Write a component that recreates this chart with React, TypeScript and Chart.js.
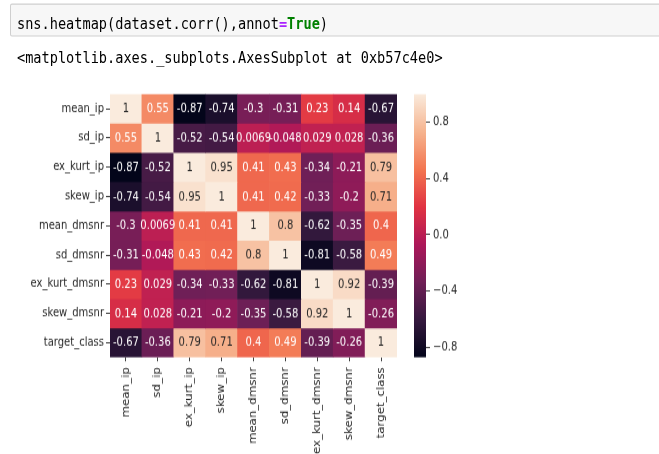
import React, { useEffect, useRef } from "react";
import { Chart, registerables } from "chart.js";

Chart.register(...registerables);

const ROW_LABELS = [
  "mean_ip",
  "sd_ip",
  "ex_kurt_ip",
  "skew_ip",
  "mean_dmsnr",
  "sd_dmsnr",
  "ex_kurt_dmsnr",
  "skew_dmsnr",
  "target_class",
];
const COL_LABELS = [...ROW_LABELS];

const ROW_MEAN_IP = [1, 0.55, -0.87, -0.74, -0.3, -0.31, 0.23, 0.14, -0.67];
const ROW_SD_IP = [0.55, 1, -0.52, -0.54, 0.0069, -0.048, 0.029, 0.028, -0.36];
const ROW_EX_KURT_IP = [-0.87, -0.52, 1, 0.95, 0.41, 0.43, -0.34, -0.21, 0.79];
const ROW_SKEW_IP = [-0.74, -0.54, 0.95, 1, 0.41, 0.42, -0.33, -0.2, 0.71];
const ROW_MEAN_DMSNR = [-0.3, 0.0069, 0.41, 0.41, 1, 0.8, -0.62, -0.35, 0.4];
const ROW_SD_DMSNR = [-0.31, -0.048, 0.43, 0.42, 0.8, 1, -0.81, -0.58, 0.49];
const ROW_EX_KURT_DMSNR = [0.23, 0.029, -0.34, -0.33, -0.62, -0.81, 1, 0.92, -0.39];
const ROW_SKEW_DMSNR = [0.14, 0.028, -0.21, -0.2, -0.35, -0.58, 0.92, 1, -0.26];
const ROW_TARGET_CLASS = [-0.67, -0.36, 0.79, 0.71, 0.4, 0.49, -0.39, -0.26, 1];

const CORR = [
  ROW_MEAN_IP,
  ROW_SD_IP,
  ROW_EX_KURT_IP,
  ROW_SKEW_IP,
  ROW_MEAN_DMSNR,
  ROW_SD_DMSNR,
  ROW_EX_KURT_DMSNR,
  ROW_SKEW_DMSNR,
  ROW_TARGET_CLASS,
];

const CELL_UNIT = 1; // each cell is one unit tall in the stacked row scale
const CB_TICKS = [-0.8, -0.4, 0, 0.4, 0.8];

const VMIN = Math.min(...CORR.flat());
const VMAX = Math.max(...CORR.flat());

// the screenshot is stretched vertically
const S = 1.18;
const PAGE_W = 659;
const PAGE_H = 454;
const IH = PAGE_H / S; // internal height

// rocket colormap anchors
const ROCKET: [number, [number, number, number]][] = [
  [0.0, [3, 5, 26]],
  [0.143, [53, 25, 62]],
  [0.286, [112, 31, 87]],
  [0.429, [173, 23, 89]],
  [0.571, [225, 51, 66]],
  [0.714, [243, 118, 81]],
  [0.857, [246, 180, 143]],
  [1.0, [250, 235, 221]],
];

function rocket(t: number): [number, number, number] {
  const x = Math.max(0, Math.min(1, t));
  for (let i = 0; i < ROCKET.length - 1; i++) {
    const [a, ca] = ROCKET[i];
    const [b, cb] = ROCKET[i + 1];
    if (x <= b) {
      const f = (x - a) / (b - a);
      return [0, 1, 2].map((k) => Math.round(ca[k] + (cb[k] - ca[k]) * f)) as [number, number, number];
    }
  }
  return ROCKET[ROCKET.length - 1][1];
}

function colorOf(v: number) {
  const c = rocket((v - VMIN) / (VMAX - VMIN));
  return `rgb(${c[0]},${c[1]},${c[2]})`;
}

function luminance(v: number) {
  const c = rocket((v - VMIN) / (VMAX - VMIN)).map((u) => {
    const s = u / 255;
    return s <= 0.03928 ? s / 12.92 : Math.pow((s + 0.055) / 1.055, 2.4);
  });
  return 0.2126 * c[0] + 0.7152 * c[1] + 0.0722 * c[2];
}

function fmt2g(v: number) {
  let s = v.toPrecision(2);
  if (s.includes("e")) return s;
  if (s.includes(".")) s = s.replace(/0+$/, "").replace(/\.$/, "");
  return s;
}

const TEXT_DARK = "#262626";
const FONT = "DejaVu Sans";

// layout (page px -> internal px)
const CANVAS_TOP = 68; // internal
const CANVAS_H = IH - CANVAS_TOP;
const AREA_TOP = 94 / S - CANVAS_TOP;
const AREA_BOTTOM = 357 / S - CANVAS_TOP;
const XAXIS_H = CANVAS_H - AREA_BOTTOM;

const annotPlugin = {
  id: "annot",
  afterDatasetsDraw(chart: any) {
    const ctx = chart.ctx;
    ctx.save();
    ctx.font = `10px "${FONT}"`;
    ctx.textAlign = "center";
    ctx.textBaseline = "middle";
    chart.data.datasets.forEach((_: any, r: number) => {
      const meta = chart.getDatasetMeta(r);
      meta.data.forEach((bar: any, c: number) => {
        const p = bar.getProps(["x", "y", "base"], true);
        const v = CORR[r][c];
        ctx.fillStyle = luminance(v) > 0.408 ? TEXT_DARK : "#ffffff";
        ctx.fillText(fmt2g(v), p.x, (p.y + p.base) / 2 + 0.5);
      });
    });
    ctx.restore();
  },
};

function Heatmap() {
  const ref = useRef<HTMLCanvasElement>(null);
  useEffect(() => {
    if (!ref.current) return;
    const chart = new Chart(ref.current, {
      type: "bar",
      data: {
        labels: COL_LABELS,
        datasets: CORR.map((row, r) => ({
          label: ROW_LABELS[r],
          data: row.map(() => CELL_UNIT),
          backgroundColor: row.map((v) => colorOf(v)),
          borderWidth: 0,
          barPercentage: 1,
          categoryPercentage: 1,
        })),
      },
      options: {
        responsive: false,
        animation: false,
        events: [],
        layout: { padding: { top: AREA_TOP, right: 3, left: 0, bottom: 0 } },
        plugins: { legend: { display: false }, tooltip: { enabled: false } },
        scales: {
          x: {
            stacked: true,
            border: { display: false },
            grid: {
              offset: false,
              drawOnChartArea: false,
              drawTicks: true,
              tickLength: 3.4,
              tickColor: "#444",
            },
            ticks: {
              minRotation: 90,
              maxRotation: 90,
              autoSkip: false,
              padding: 5,
              color: TEXT_DARK,
              font: { family: FONT, size: 10 },
            },
            afterFit: (s: any) => {
              s.height = XAXIS_H;
            },
          },
          y: {
            stacked: true,
            min: 0,
            max: ROW_LABELS.length,
            reverse: true,
            border: { display: false },
            grid: {
              drawOnChartArea: false,
              drawTicks: true,
              tickLength: 4,
              tickColor: "#444",
            },
            afterBuildTicks: (s: any) => {
              s.ticks = ROW_LABELS.map((_, i) => ({ value: i + 0.5 }));
            },
            ticks: {
              autoSkip: false,
              padding: 2,
              color: TEXT_DARK,
              font: { family: FONT, size: 10 },
              callback: (v: any) => ROW_LABELS[Math.floor(Number(v))],
            },
            afterFit: (s: any) => {
              s.width = 110;
            },
          },
        },
      },
      plugins: [annotPlugin],
    });
    return () => chart.destroy();
  }, []);
  return (
    <canvas
      ref={ref}
      width={400}
      height={Math.round(CANVAS_H)}
      style={{ position: "absolute", left: 0, top: CANVAS_TOP, width: 400, height: Math.round(CANVAS_H) }}
    />
  );
}

function Colorbar() {
  const ref = useRef<HTMLCanvasElement>(null);
  useEffect(() => {
    if (!ref.current) return;
    const chart = new Chart(ref.current, {
      type: "bar",
      data: {
        labels: [""],
        datasets: [
          {
            data: [[VMIN, VMAX]] as any,
            backgroundColor: (ctx: any) => {
              const area = ctx.chart.chartArea;
              if (!area) return colorOf(0);
              const g = ctx.chart.ctx.createLinearGradient(0, area.bottom, 0, area.top);
              ROCKET.forEach(([t, c]) => g.addColorStop(t, `rgb(${c[0]},${c[1]},${c[2]})`));
              return g;
            },
            borderWidth: 0,
            barPercentage: 1,
            categoryPercentage: 1,
          },
        ],
      },
      options: {
        responsive: false,
        animation: false,
        events: [],
        layout: { padding: { top: AREA_TOP, left: 14, right: 0, bottom: XAXIS_H } },
        plugins: { legend: { display: false }, tooltip: { enabled: false } },
        scales: {
          x: { display: false },
          y: {
            position: "right",
            min: VMIN,
            max: VMAX,
            border: { display: false },
            grid: {
              drawOnChartArea: false,
              drawTicks: true,
              tickLength: 4,
              tickColor: "#444",
            },
            afterBuildTicks: (s: any) => {
              s.ticks = CB_TICKS.map((v) => ({ value: v }));
            },
            ticks: {
              padding: 3,
              color: TEXT_DARK,
              font: { family: FONT, size: 10 },
              callback: (v: any) => Number(v).toFixed(1).replace("-", "\u2212"),
            },
            afterFit: (s: any) => {
              s.width = 74;
            },
          },
        },
      },
    });
    return () => chart.destroy();
  }, []);
  return (
    <canvas
      ref={ref}
      width={100}
      height={Math.round(CANVAS_H)}
      style={{ position: "absolute", left: 400, top: CANVAS_TOP, width: 100, height: Math.round(CANVAS_H) }}
    />
  );
}

export default function App() {
  const mono = { fontFamily: '"DejaVu Sans Mono", monospace', fontSize: 13.6, whiteSpace: "pre" as const };
  return (
    <div
      style={{
        position: "absolute",
        left: 0,
        top: 0,
        width: PAGE_W,
        height: PAGE_H,
        overflow: "hidden",
        background: "#ffffff",
      }}
    >
      <div
        style={{
          position: "absolute",
          left: 0,
          top: 0,
          width: PAGE_W,
          height: IH,
          transform: `scaleY(${S})`,
          transformOrigin: "0 0",
        }}
      >
        <div
          style={{
            position: "absolute",
            left: 10,
            top: 4 / S,
            width: 700,
            height: 33 / S,
            background: "#f7f7f7",
            border: "1px solid #cfcfcf",
            borderRadius: 2,
            boxSizing: "border-box",
          }}
        />
        <div style={{ ...mono, position: "absolute", left: 17, top: 24 / S - 9, lineHeight: "18px", color: "#000" }}>
          sns.heatmap(dataset.corr(),annot
          <span style={{ color: "#AA22FF", fontWeight: "bold" }}>=</span>
          <span style={{ color: "#008000", fontWeight: "bold" }}>True</span>)
        </div>
        <div style={{ ...mono, position: "absolute", left: 17, top: 57 / S - 9, lineHeight: "18px", color: "#000" }}>
          {"<matplotlib.axes._subplots.AxesSubplot at 0xb57c4e0>"}
        </div>
        <Heatmap />
        <Colorbar />
      </div>
    </div>
  );
}
